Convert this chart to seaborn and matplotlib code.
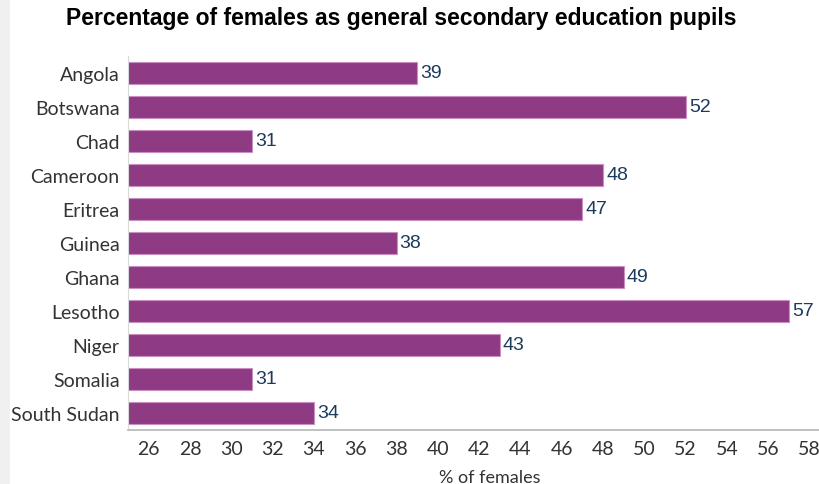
import matplotlib
matplotlib.use("Agg")
import matplotlib.pyplot as plt
import numpy as np
import pandas as pd
import seaborn as sns
from matplotlib.patches import Rectangle


countries = ["Angola", "Botswana", "Chad", "Cameroon", "Eritrea", "Guinea",
             "Ghana", "Lesotho", "Niger", "Somalia", "South Sudan"]
pct_females = [39, 52, 31, 48, 47, 38, 49, 57, 43, 31, 34]
x_ticks = list(range(26, 60, 2))

df = pd.DataFrame({"country": countries, "pct": pct_females})

sns.set_style("white")
plt.rcParams["font.family"] = ["Lato", "DejaVu Sans"]

fig = plt.figure(figsize=(8.2, 4.85), dpi=100)
# light grey strip on the left edge
fig.patches.append(Rectangle((0, 0), 10 / 820, 1, transform=fig.transFigure,
                             facecolor="#f0f0f0", edgecolor="none", zorder=0))
ax = fig.add_axes([128 / 820, 1 - 431 / 485, 1 - 128 / 820, (431 - 57) / 485])

sns.barplot(data=df, x="pct", y="country", orient="h", color="#8e3b84",
            width=0.65, edgecolor="#c98fc3", linewidth=0.8, ax=ax,
            saturation=1)

for i, v in enumerate(pct_females):
    ax.text(v + 0.15, i, str(v), va="center", ha="left", fontsize=14,
            color="#1d3a5c", family=["Liberation Sans", "DejaVu Sans"])

ax.set_xlim(25, 58.5)
ax.set_ylim(10.5, -0.5)
ax.set_xticks(x_ticks)
ax.tick_params(axis="both", length=0, labelsize=14, labelcolor="#333333")
ax.tick_params(axis="x", pad=7)
ax.tick_params(axis="y", pad=6)
ax.set_ylabel("")
ax.set_xlabel("% of females", fontsize=13, color="#333333")
ax.xaxis.set_label_coords((490 - 128) / (820 - 128), -0.105)

for s in ["top", "right"]:
    ax.spines[s].set_visible(False)
ax.spines["left"].set_color("#d9d9d9")
ax.spines["left"].set_linewidth(0.8)
ax.spines["bottom"].set_color("#b5b5b5")
ax.spines["bottom"].set_linewidth(1.2)

fig.text(0.489, 1 - 19 / 485, "Percentage of females as general secondary education pupils",
         ha="center", va="center", fontsize=16.5, fontweight="bold",
         family=["Liberation Sans", "DejaVu Sans"], color="black")

fig.savefig("out.png", dpi=100)
